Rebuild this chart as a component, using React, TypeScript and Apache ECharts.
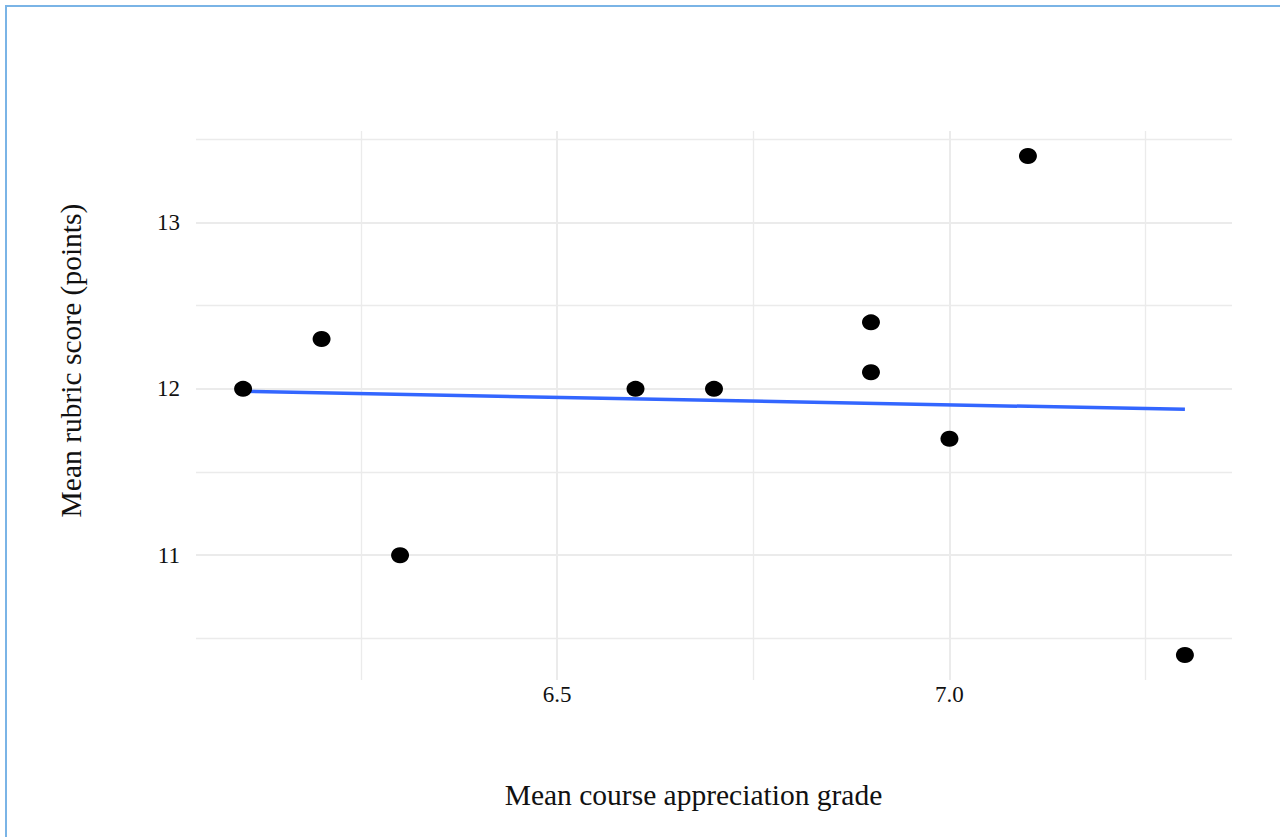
import React, { useEffect, useRef } from "react";
import * as echarts from "echarts";

const courseGrade = [6.1, 6.2, 6.3, 6.6, 6.7, 6.9, 6.9, 7.0, 7.1, 7.3];
const rubricScore = [12.0, 12.3, 11.0, 12.0, 12.0, 12.4, 12.1, 11.7, 13.4, 10.4];
const fitX = [6.1, 7.3];
const fitY = [11.985, 11.877];

const xMajor = [6.5, 7.0];
const xMinor = [6.25, 6.75, 7.25];
const yMajor = [11, 12, 13];
const yMinor = [10.5, 11.5, 12.5, 13.5];

const X_MIN = 6.04;
const X_MAX = 7.36;
const Y_MIN = 10.25;
const Y_MAX = 13.55;

const FONT = "'Liberation Serif', 'DejaVu Serif', serif";

export default function App() {
  const ref = useRef<HTMLDivElement>(null);

  useEffect(() => {
    if (!ref.current) return;
    const chart = echarts.init(ref.current, undefined, { renderer: "svg" });
    const gridMajor = { lineStyle: { color: "#ebebeb", width: 2 } };
    const gridMinor = { lineStyle: { color: "#ebebeb", width: 1.3 } };
    chart.setOption({
      animation: false,
      backgroundColor: "transparent",
      grid: { left: 196, right: 48, top: 131, bottom: 157, containLabel: false },
      xAxis: [
        {
          type: "value",
          min: X_MIN,
          max: X_MAX,
          position: "bottom",
          name: "Mean course appreciation grade",
          nameLocation: "middle",
          nameGap: 100,
          nameTextStyle: { fontFamily: FONT, fontSize: 29.5, color: "#111", padding: [0, 41, 0, 0] },
          axisLine: { show: false },
          axisTick: { show: false, customValues: xMajor },
          axisLabel: {
            customValues: xMajor,
            formatter: (v: number) => v.toFixed(1),
            fontFamily: FONT,
            fontSize: 23,
            color: "#111",
            margin: 3,
          },
          splitLine: { show: true, ...gridMajor },
        },
        {
          type: "value",
          min: X_MIN,
          max: X_MAX,
          position: "bottom",
          axisLine: { show: false },
          axisTick: { show: false, customValues: xMinor },
          axisLabel: { show: false, customValues: xMinor },
          splitLine: { show: true, ...gridMinor },
        },
      ],
      yAxis: [
        {
          type: "value",
          min: Y_MIN,
          max: Y_MAX,
          position: "left",
          name: "Mean rubric score (points)",
          nameLocation: "middle",
          nameGap: 110,
          nameTextStyle: { fontFamily: FONT, fontSize: 29.5, color: "#111", padding: [0, 0, 0, 90] },
          axisLine: { show: false },
          axisTick: { show: false, customValues: yMajor },
          axisLabel: {
            customValues: yMajor,
            formatter: (v: number) => String(v),
            fontFamily: FONT,
            fontSize: 23,
            color: "#111",
            margin: 16,
          },
          splitLine: { show: true, ...gridMajor },
        },
        {
          type: "value",
          min: Y_MIN,
          max: Y_MAX,
          position: "left",
          axisLine: { show: false },
          axisTick: { show: false, customValues: yMinor },
          axisLabel: { show: false, customValues: yMinor },
          splitLine: { show: true, ...gridMinor },
        },
      ],
      series: [
        {
          type: "line",
          xAxisIndex: 0,
          yAxisIndex: 0,
          data: fitX.map((x, i) => [x, fitY[i]]),
          showSymbol: false,
          symbol: "none",
          lineStyle: { color: "#3366ff", width: 3.5 },
          z: 2,
        },
        {
          type: "scatter",
          xAxisIndex: 0,
          yAxisIndex: 0,
          data: courseGrade.map((x, i) => [x, rubricScore[i]]),
          symbol: "circle",
          symbolSize: [18, 16],
          itemStyle: { color: "#000", opacity: 1 },
          z: 3,
        },
      ],
    });
    return () => chart.dispose();
  }, []);

  return (
    <div style={{ position: "absolute", left: 0, top: 0, width: 1280, height: 837, overflow: "hidden", background: "#fff" }}>
      <div
        style={{
          position: "absolute",
          left: 5,
          top: 5,
          width: 1400,
          height: 1000,
          borderTop: "2px solid #7ab4e6",
          borderLeft: "2px solid #7ab4e6",
        }}
      />
      <div ref={ref} style={{ position: "absolute", left: 0, top: 0, width: 1280, height: 837 }} />
    </div>
  );
}
